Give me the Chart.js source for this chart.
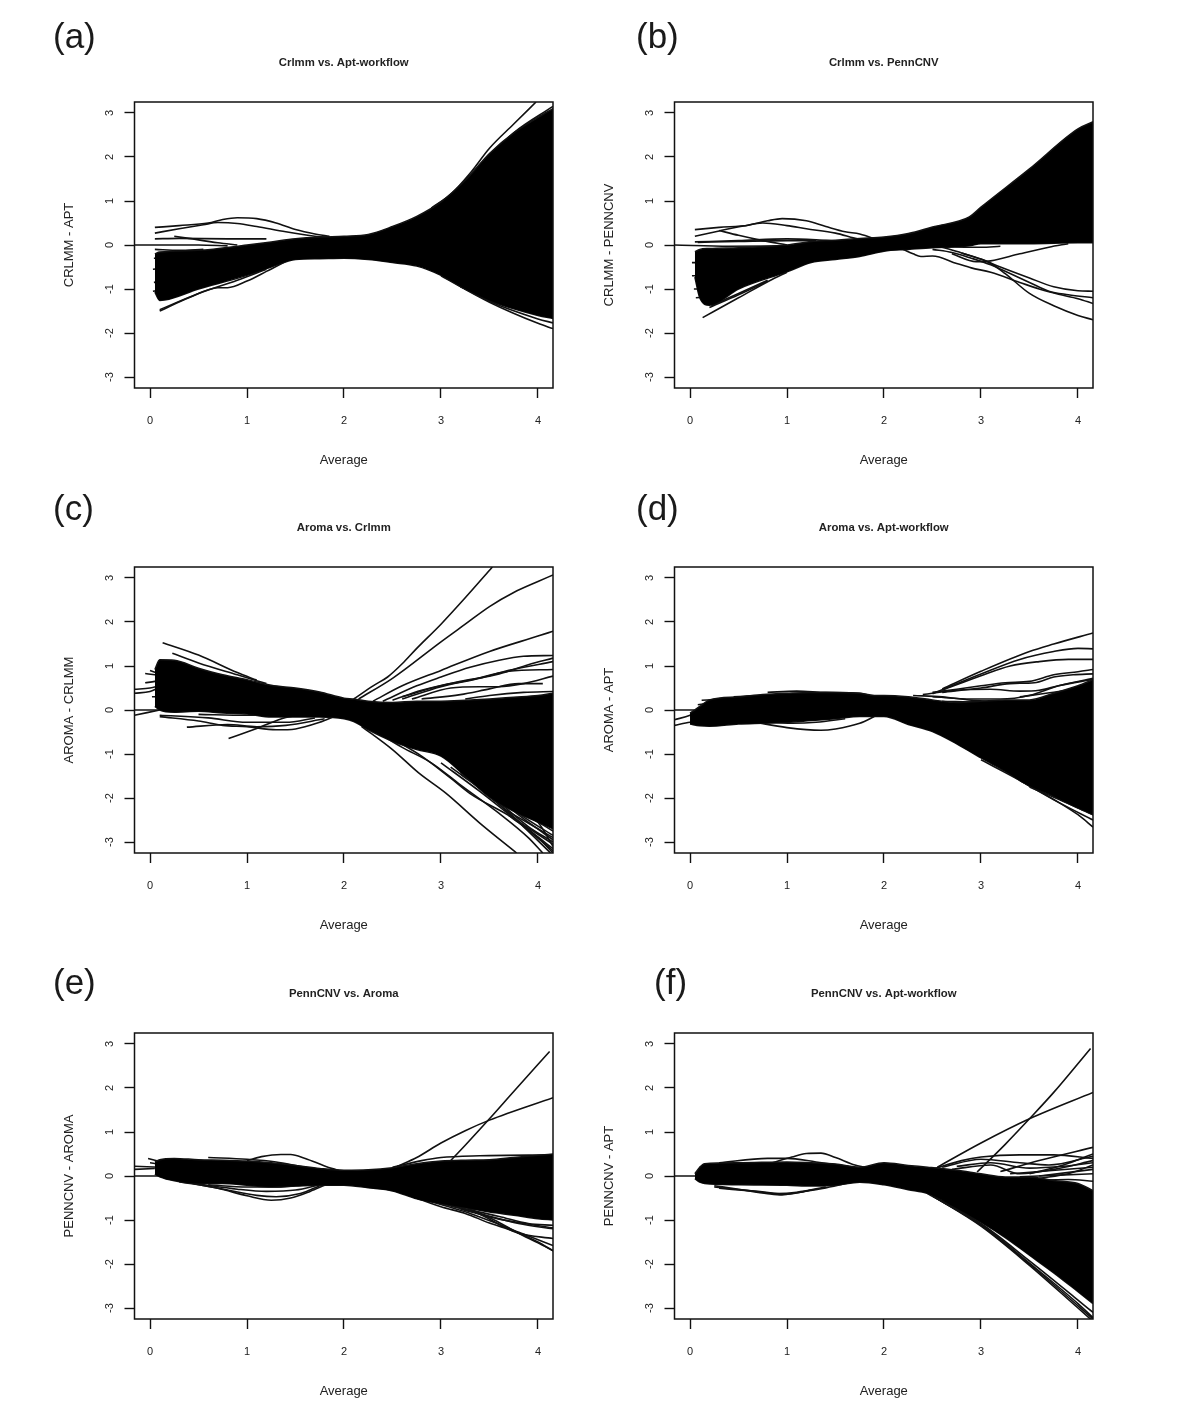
<!DOCTYPE html>
<html><head><meta charset="utf-8">
<script src="https://cdn.jsdelivr.net/npm/chart.js@4/dist/chart.umd.min.js"></script>
<style>
html,body{margin:0;padding:0;background:#fff;width:1200px;height:1418px;overflow:hidden}
canvas{position:absolute}
.tag{position:absolute;font:35px/40px "Liberation Sans",Arial,sans-serif;color:#1a1a1a}
</style></head><body>
<script>
const xTicks=[0,1,2,3,4];
const yTicks=[-3,-2,-1,0,1,2,3];
const xLimits=[-0.16,4.155];
const yLimits=[-3.25,3.25];
const titles=["Crlmm vs. Apt-workflow","Crlmm vs. PennCNV","Aroma vs. Crlmm","Aroma vs. Apt-workflow","PennCNV vs. Aroma","PennCNV vs. Apt-workflow"];
const yLabels=["CRLMM - APT","CRLMM - PENNCNV","AROMA - CRLMM","AROMA - APT","PENNCNV - AROMA","PENNCNV - APT"];
const tags=["(a)","(b)","(c)","(d)","(e)","(f)"];
const xLabel="Average";

const aBandX=[0.05,0.1,0.5,1,1.25,1.5,1.75,2,2.25,2.5,2.75,3,3.25,3.5,3.75,4,4.155];
const aUpper=[-0.2,-0.16,-0.12,0,0.07,0.14,0.18,0.2,0.24,0.42,0.65,0.98,1.47,2.08,2.55,2.9,3.1];
const aLower=[-1.07,-1.26,-1.0,-0.69,-0.5,-0.33,-0.31,-0.3,-0.33,-0.4,-0.48,-0.69,-1.0,-1.26,-1.45,-1.6,-1.67];
const aLines=[
[[0.05,0.4],[0.3,0.44],[0.6,0.5],[0.75,0.58],[0.9,0.62],[1.1,0.6],[1.3,0.5],[1.5,0.35],[1.7,0.25],[1.85,0.2]],
[[0.05,0.27],[0.3,0.37],[0.55,0.46],[0.7,0.51],[0.9,0.49],[1.1,0.42],[1.4,0.3],[1.7,0.2],[1.85,0.17]],
[[-0.16,0],[0.5,0],[0.8,-0.02]],
[[0.05,0.14],[0.3,0.15],[0.8,0.14],[1.2,0.14]],
[[0.25,0.2],[0.4,0.15],[0.7,0.05],[0.9,0]],
[[0.05,-0.1],[0.3,-0.12],[0.55,-0.1]],
[[0.04,-0.3],[0.3,-0.3]],
[[0.03,-0.55],[0.3,-0.5]],
[[0.04,-0.85],[0.3,-0.8]],
[[0.03,-1.05],[0.2,-1.0]],
[[0.1,-1.5],[0.4,-1.2],[0.7,-0.97],[0.8,-0.97],[1,-0.82],[1.2,-0.6],[1.4,-0.37]],
[[0.1,-1.47],[0.5,-1.1],[0.9,-0.8],[1.2,-0.55]],
[[2.9,0.84],[3.1,1.15],[3.3,1.63],[3.5,2.2],[3.75,2.75],[3.98,3.25]],
[[3.1,1.12],[3.4,1.8],[3.75,2.55],[4.155,3.15]],
[[3,-0.7],[3.5,-1.3],[4,-1.78],[4.155,-1.9]],
[[3.1,-0.8],[3.5,-1.28],[4,-1.68],[4.155,-1.77]],
[[3.2,-0.95],[3.6,-1.3],[4.155,-1.62]]
];

const bBandX=[0.05,0.1,0.2,0.5,1,1.25,1.5,1.75,2,2.25,2.5,2.88,3,3.5,4,4.155];
const bUpper=[-0.15,-0.1,-0.08,-0.06,0,0.08,0.11,0.15,0.18,0.26,0.41,0.64,0.86,1.73,2.64,2.8];
const bLower=[-0.73,-1.2,-1.37,-1.0,-0.61,-0.4,-0.33,-0.26,-0.14,-0.1,-0.06,-0.02,0.03,0.03,0.05,0.05];
const bLines=[
[[-0.16,0],[0.4,-0.03],[1,-0.02]],
[[0.05,0.07],[0.5,0.1],[1,0.14],[1.3,0.12],[1.6,0.08]],
[[0.08,0.06],[0.5,0.08],[1,0.1],[1.3,0.1]],
[[0.05,0.35],[0.3,0.4],[0.6,0.45],[0.8,0.55],[0.95,0.6],[1.2,0.55],[1.4,0.42],[1.6,0.3],[1.75,0.25],[1.95,0.1]],
[[0.05,0.2],[0.3,0.32],[0.55,0.43],[0.75,0.5],[1,0.44],[1.2,0.37],[1.5,0.27],[1.75,0.13],[1.9,0.1]],
[[0.3,0.33],[0.5,0.22],[0.75,0.1],[1,0]],
[[0.02,-0.4],[0.3,-0.4]],
[[0.02,-0.7],[0.3,-0.7]],
[[0.04,-1.0],[0.3,-1.0]],
[[0.06,-1.2],[0.3,-1.15]],
[[0.13,-1.65],[0.5,-1.2],[0.85,-0.78],[1,-0.62]],
[[0.2,-1.42],[0.5,-1.13],[0.8,-0.82]],
[[0.22,-1.38],[0.5,-1.1],[0.8,-0.8]],
[[2.2,-0.1],[2.3,-0.2],[2.38,-0.26],[2.5,-0.25],[2.75,-0.42],[2.9,-0.52],[3.1,-0.62],[3.4,-0.85],[3.6,-1],[3.8,-1.12],[4,-1.22],[4.155,-1.33]],
[[2.5,-0.1],[2.7,-0.17],[2.9,-0.3],[3.1,-0.45],[3.3,-0.65],[3.5,-0.85],[3.7,-1.05],[3.9,-1.13],[4.155,-1.2]],
[[2.6,-0.05],[2.8,-0.18],[3,-0.32],[3.2,-0.5],[3.5,-0.75],[3.75,-0.95],[4,-1.04],[4.155,-1.05]],
[[2.8,-0.18],[3.1,-0.42],[3.25,-0.65],[3.5,-1.1],[3.75,-1.38],[4,-1.6],[4.155,-1.7]],
[[2.7,-0.2],[2.95,-0.38],[3.1,-0.36],[3.4,-0.2],[3.7,-0.05],[3.9,0.03]],
[[2.4,-0.03],[3,-0.05],[3.2,-0.03]]
];

const cBandX=[0.05,0.1,0.25,0.5,0.75,1,1.25,1.5,1.75,2,2.1,2.25,2.5,2.75,3,3.25,3.5,3.75,4,4.155];
const cUpper=[0.92,1.14,1.13,0.95,0.8,0.69,0.56,0.5,0.41,0.27,0.25,0.2,0.17,0.2,0.2,0.22,0.25,0.29,0.33,0.38];
const cLower=[0.08,0,-0.05,-0.03,-0.07,-0.09,-0.16,-0.16,-0.16,-0.2,-0.26,-0.45,-0.71,-0.9,-1.05,-1.5,-1.98,-2.3,-2.55,-2.7];
const cLines=[
[[2.1,0.25],[2.3,0.55],[2.45,0.75],[2.6,1.05],[2.75,1.4],[3,1.95],[3.25,2.55],[3.53,3.25]],
[[2.15,0.25],[2.5,0.72],[3,1.55],[3.25,1.95],[3.5,2.35],[3.75,2.67],[4,2.92],[4.155,3.07]],
[[2.3,0.2],[2.6,0.55],[3,0.9],[3.5,1.33],[4,1.68],[4.155,1.79]],
[[2.4,0.2],[2.75,0.55],[3,0.75],[3.3,0.97],[3.6,1.13],[3.85,1.22],[4.155,1.24]],
[[2.5,0.22],[2.8,0.45],[3.2,0.65],[3.6,0.82],[3.9,1.03],[4.155,1.18]],
[[2.6,0.25],[3,0.53],[3.4,0.72],[3.7,0.9],[4.155,1.1]],
[[2.6,0.3],[3,0.55],[3.3,0.68],[3.7,0.88],[4.155,0.92]],
[[2.7,0.25],[3.1,0.5],[3.4,0.53],[3.6,0.53],[3.85,0.6],[4.155,0.77]],
[[2.8,0.25],[3.2,0.35],[3.5,0.48],[3.8,0.6],[4.05,0.6]],
[[3.25,0.25],[3.5,0.33],[3.85,0.4],[4.155,0.42]],
[[0.13,1.53],[0.5,1.25],[0.9,0.85],[1.1,0.68]],
[[0.23,1.29],[0.5,1.07],[0.9,0.8],[1.2,0.6]],
[[-0.16,0.38],[0,0.42],[0.1,0.52]],
[[-0.16,0.47],[0,0.5],[0.1,0.55]],
[[-0.05,0.62],[0.05,0.65],[0.12,0.7]],
[[-0.05,0.83],[0.05,0.8],[0.12,0.78]],
[[0,0.9],[0.1,0.82]],
[[0.02,0.3],[0.15,0.3]],
[[-0.16,-0.12],[0.1,0]],
[[-0.16,0],[0.1,0]],
[[0.1,-0.15],[0.5,-0.25],[0.75,-0.35],[1,-0.38],[1.3,-0.45],[1.5,-0.43],[1.75,-0.28],[1.9,-0.15]],
[[0.38,-0.39],[0.8,-0.33],[1.1,-0.38],[1.4,-0.35],[1.8,-0.2]],
[[0.1,-0.12],[0.6,-0.18],[1,-0.28],[1.4,-0.28],[1.7,-0.18]],
[[0.81,-0.65],[1.1,-0.42],[1.4,-0.17],[1.7,-0.08]],
[[0.5,-0.1],[1,-0.12],[1.4,-0.1]],
[[2.18,-0.37],[2.5,-0.9],[2.77,-1.43],[3.05,-1.89],[3.4,-2.57],[3.78,-3.25]],
[[2.3,-0.45],[2.6,-0.85],[2.9,-1.2],[3.2,-1.7],[3.6,-2.35],[3.9,-2.9],[4.05,-3.25]],
[[2.5,-0.65],[2.8,-1.05],[3.1,-1.55],[3.3,-1.9],[3.7,-2.4],[4.155,-3.05]],
[[3,-1.2],[3.4,-1.85],[3.8,-2.55],[4.155,-3.2]],
[[3.1,-1.3],[3.5,-1.95],[3.85,-2.65],[4.13,-3.25]],
[[3.2,-1.45],[3.6,-2.05],[3.9,-2.55],[4.155,-2.95]],
[[3.2,-1.4],[3.6,-2.15],[3.95,-2.8],[4.155,-3.15]],
[[3.4,-1.65],[3.75,-2.2],[4.155,-2.75]],
[[3.45,-1.75],[3.8,-2.3],[4.155,-2.6]],
[[3.5,-1.8],[3.8,-2.35],[4.155,-2.85]],
[[3.6,-2.1],[3.9,-2.65],[4.155,-3.0]],
[[3.7,-2.4],[4,-2.9],[4.155,-3.25]],
[[3.65,-2.25],[4,-2.7],[4.155,-2.9]],
[[3.7,-2.1],[4,-2.55],[4.155,-3.1]]
];

const dBandX=[0,0.1,0.2,0.5,0.75,1,1.25,1.5,1.75,1.9,2,2.25,2.5,2.75,3,3.25,3.5,3.75,4,4.155];
const dUpper=[-0.07,0.08,0.23,0.3,0.35,0.38,0.4,0.4,0.38,0.33,0.33,0.3,0.23,0.17,0.2,0.23,0.23,0.38,0.55,0.69];
const dLower=[-0.32,-0.36,-0.37,-0.32,-0.3,-0.28,-0.24,-0.2,-0.15,-0.15,-0.15,-0.33,-0.49,-0.77,-1.09,-1.39,-1.73,-1.96,-2.23,-2.38];
const dLines=[
[[2.6,0.48],[3,0.88],[3.5,1.33],[3.75,1.5],[4.155,1.75]],
[[2.5,0.37],[3,0.82],[3.4,1.15],[3.75,1.33],[4,1.4],[4.155,1.39]],
[[2.6,0.45],[3,0.78],[3.3,1],[3.6,1.1],[3.9,1.15],[4.155,1.15]],
[[2.5,0.4],[2.75,0.47],[3,0.55],[3.25,0.62],[3.5,0.65],[3.75,0.8],[4,0.87],[4.155,0.92]],
[[2.6,0.4],[3,0.5],[3.3,0.6],[3.55,0.62],[3.75,0.75],[3.95,0.8],[4.155,0.82]],
[[2.4,0.35],[2.75,0.45],[3.1,0.47],[3.4,0.43],[3.6,0.45],[3.8,0.55],[4.155,0.7]],
[[2.5,0.3],[2.9,0.25],[3.2,0.25],[3.5,0.33],[3.8,0.55],[4.155,0.72]],
[[2.3,0.33],[2.6,0.3],[2.9,0.22],[3.1,0.2]],
[[2.6,0.2],[3,0.18],[3.4,0.2]],
[[3.4,0.3],[3.8,0.42],[4.155,0.55]],
[[-0.16,0],[0.05,0]],
[[-0.16,-0.22],[0,-0.12],[0.1,0]],
[[-0.16,-0.35],[0,-0.28],[0.1,-0.25]],
[[0.08,0.12],[0.4,0.22]],
[[0.12,0.22],[0.5,0.26]],
[[0.45,0.3],[0.8,0.33]],
[[0.65,-0.27],[1,-0.4],[1.35,-0.46],[1.5,-0.43],[1.75,-0.3],[1.9,-0.15]],
[[0.7,-0.27],[1.05,-0.3],[1.3,-0.28],[1.6,-0.2]],
[[0.8,0.4],[1.1,0.43],[1.4,0.4],[1.75,0.38],[1.85,0.33]],
[[3,-1.13],[3.5,-1.72],[4,-2.38],[4.155,-2.66]],
[[3.4,-1.6],[3.8,-2.1],[4.155,-2.5]],
[[3.5,-1.75],[3.8,-2.03],[4.155,-2.38]]
];

const eBandX=[0.05,0.1,0.25,0.5,0.75,1,1.25,1.5,1.75,2,2.25,2.5,2.75,3,3.25,3.5,3.75,4,4.155];
const eUpper=[0.32,0.37,0.4,0.37,0.36,0.34,0.3,0.24,0.17,0.13,0.14,0.19,0.28,0.34,0.36,0.37,0.42,0.47,0.5];
const eLower=[0.04,-0.02,-0.11,-0.17,-0.17,-0.21,-0.25,-0.23,-0.21,-0.21,-0.27,-0.34,-0.52,-0.63,-0.72,-0.82,-0.89,-0.97,-1.0];
const eLines=[
[[1,0.35],[1.15,0.44],[1.35,0.49],[1.45,0.49],[1.6,0.4],[1.8,0.23],[1.95,0.12]],
[[0.6,0.42],[1,0.38],[1.3,0.32],[1.6,0.2],[1.9,0.12]],
[[-0.16,0.22],[0.1,0.2]],
[[-0.16,0.15],[0.05,0.17]],
[[-0.16,0],[0.1,0]],
[[-0.02,0.4],[0.1,0.33]],
[[0,0.3],[0.1,0.27]],
[[0.3,-0.13],[0.7,-0.28],[1,-0.45],[1.25,-0.55],[1.45,-0.5],[1.65,-0.35],[1.8,-0.21]],
[[0.4,-0.15],[0.8,-0.32],[1.1,-0.44],[1.3,-0.47],[1.55,-0.4],[1.75,-0.22]],
[[0.5,-0.18],[0.9,-0.3],[1.2,-0.35],[1.5,-0.32],[1.75,-0.2]],
[[0.6,-0.2],[1,-0.25],[1.3,-0.25],[1.7,-0.18]],
[[2.55,0.22],[2.75,0.42],[3,0.75],[3.25,1.03],[3.5,1.27],[4.155,1.78]],
[[3.07,0.28],[3.25,0.7],[3.5,1.3],[3.75,1.92],[4.12,2.83]],
[[2.5,0.2],[2.8,0.35],[3,0.42],[3.4,0.46],[4.155,0.48]],
[[2.6,-0.38],[3,-0.7],[3.25,-0.85],[3.5,-1.07],[3.75,-1.25],[4,-1.5],[4.155,-1.7]],
[[2.7,-0.43],[3,-0.65],[3.3,-0.85],[3.6,-1.1],[3.85,-1.32],[4.155,-1.58]],
[[2.7,-0.45],[3.1,-0.65],[3.4,-0.87],[3.6,-1.1],[3.8,-1.3],[4.155,-1.42]],
[[3.3,-0.75],[3.55,-1],[3.8,-1.3],[4,-1.52],[4.155,-1.7]],
[[3,-0.62],[3.4,-0.85],[3.8,-1.08],[4.155,-1.2]],
[[3.2,-0.75],[3.6,-0.98],[4.155,-1.18]],
[[3.1,-0.68],[3.6,-0.92],[3.9,-1.08],[4.155,-1.12]]
];

const fBandX=[0.05,0.1,0.15,0.5,1,1.25,1.5,1.75,2,2.25,2.45,2.75,3,3.25,3.5,3.75,4,4.155];
const fUpper=[0.05,0.2,0.28,0.3,0.32,0.3,0.27,0.2,0.3,0.24,0.2,0.13,0.05,-0.02,-0.02,-0.1,-0.17,-0.33];
const fLower=[-0.06,-0.14,-0.17,-0.2,-0.21,-0.23,-0.21,-0.14,-0.2,-0.31,-0.4,-0.74,-1.05,-1.4,-1.8,-2.2,-2.63,-2.9];
const fLines=[
[[-0.16,0],[0.1,0]],
[[0.85,0.3],[1.05,0.43],[1.2,0.51],[1.35,0.52],[1.5,0.42],[1.7,0.25],[1.8,0.2]],
[[0.3,0.3],[0.8,0.4],[1,0.4],[1.3,0.32],[1.7,0.2]],
[[0.25,-0.22],[0.5,-0.3],[0.8,-0.4],[0.95,-0.43],[1.1,-0.38],[1.4,-0.27],[1.7,-0.13]],
[[0.25,-0.25],[0.6,-0.33],[0.9,-0.4],[1.1,-0.37],[1.4,-0.25]],
[[0.3,-0.28],[0.7,-0.35],[1,-0.41],[1.25,-0.32]],
[[2.55,0.2],[3,0.75],[3.5,1.3],[4.155,1.9]],
[[2.96,0.09],[3.25,0.72],[3.5,1.3],[3.75,1.9],[4.13,2.9]],
[[2.5,0.15],[2.8,0.35],[3,0.43],[3.4,0.48],[3.75,0.48],[4.155,0.4]],
[[2.6,0.2],[3,0.38],[3.4,0.3],[3.7,0.25],[4.155,0.45]],
[[2.7,0.15],[3.1,0.25],[3.4,0.05],[3.75,0.15],[4.155,0.35]],
[[3.2,0.1],[3.6,0.35],[4.155,0.65]],
[[2.75,0.22],[3.1,0.3],[3.5,0.18],[3.85,0.22],[4.155,0.3]],
[[3.5,0.05],[3.85,0.25],[4.155,0.5]],
[[3.6,0],[4.155,0.15]],
[[3.3,0.05],[3.7,0.12],[4.155,0.2]],
[[3.4,-0.02],[3.8,0.02],[4.155,0.05]],
[[3.5,-0.1],[3.9,-0.08],[4.155,-0.12]],
[[3.6,-0.05],[3.9,0.05],[4.155,0.25]],
[[2.45,-0.4],[3,-1.1],[3.5,-1.98],[4,-2.9],[4.155,-3.22]],
[[2.5,-0.45],[3,-1.08],[3.5,-1.93],[4,-2.82],[4.155,-3.1]],
[[2.5,-0.45],[3,-1.12],[3.5,-2.0],[4,-2.95],[4.155,-3.25]],
[[2.5,-0.45],[3,-1.14],[3.5,-2.03],[4,-3.0],[4.155,-3.3]]
];

const bandXs=[aBandX,bBandX,cBandX,dBandX,eBandX,fBandX];
const uppers=[aUpper,bUpper,cUpper,dUpper,eUpper,fUpper];
const lowers=[aLower,bLower,cLower,dLower,eLower,fLower];
const extraLines=[aLines,bLines,cLines,dLines,eLines,fLines];

const INK='#111', TEXT='#222';
const FONT='"Liberation Sans",Arial,sans-serif';
const cols=[20,560], rows=[40,505,971];
const tagPos=[[53,16],[636,16],[53,488],[636,488],[53,962],[654,962]];
const boxPlugin={id:'box',afterDraw(c){const a=c.chartArea,g=c.ctx;g.save();g.strokeStyle=INK;g.lineWidth=1.5;g.strokeRect(a.left,a.top,a.right-a.left,a.bottom-a.top);g.restore();}};

titles.forEach((title,i)=>{
  const cv=document.createElement('canvas');
  cv.width=540;cv.height=440;
  cv.style.left=cols[i%2]+'px';cv.style.top=rows[Math.floor(i/2)]+'px';
  document.body.appendChild(cv);
  const tag=document.createElement('div');tag.className='tag';tag.textContent=tags[i];
  tag.style.left=tagPos[i][0]+'px';tag.style.top=tagPos[i][1]+'px';document.body.appendChild(tag);
  const pts=(xs,ys)=>xs.map((x,k)=>({x,y:ys[k]}));
  const datasets=[
    {data:pts(bandXs[i],uppers[i]),fill:'+1',backgroundColor:'#000',borderColor:INK,borderWidth:1.5,pointRadius:0,cubicInterpolationMode:'monotone'},
    {data:pts(bandXs[i],lowers[i]),fill:false,borderColor:INK,borderWidth:1.5,pointRadius:0,cubicInterpolationMode:'monotone'}
  ];
  extraLines[i].forEach(l=>datasets.push({data:l.map(p=>({x:p[0],y:p[1]})),fill:false,borderColor:INK,borderWidth:1.6,pointRadius:0,cubicInterpolationMode:'monotone'}));
  new Chart(cv,{type:'line',data:{datasets},plugins:[boxPlugin],options:{
    responsive:false,animation:false,
    layout:{padding:{left:0,right:7,top:0,bottom:0}},
    plugins:{legend:{display:false},tooltip:{enabled:false},
      title:{display:true,text:title,fullSize:false,color:TEXT,font:{family:FONT,size:11.35,weight:'bold',lineHeight:1.2},padding:{top:16.2,bottom:32.18}}},
    scales:{
      x:{type:'linear',position:'bottom',min:xLimits[0],max:xLimits[1],
        afterBuildTicks:s=>{s.ticks=xTicks.map(v=>({value:v}));},
        afterFit:s=>{s.height=92;},
        grid:{drawOnChartArea:false,drawTicks:true,tickLength:10,tickColor:INK,tickWidth:1.4},
        border:{display:false},
        ticks:{color:TEXT,font:{family:FONT,size:11},padding:16,maxRotation:0,minRotation:0,autoSkip:false,callback:v=>String(v)},
        title:{display:true,text:xLabel,color:TEXT,font:{family:FONT,size:13,lineHeight:1.2},padding:{top:0,bottom:12.2}}},
      y:{type:'linear',position:'left',min:yLimits[0],max:yLimits[1],
        afterBuildTicks:s=>{s.ticks=yTicks.map(v=>({value:v}));},
        afterFit:s=>{s.width=114.5;},
        grid:{drawOnChartArea:false,drawTicks:true,tickLength:10,tickColor:INK,tickWidth:1.4},
        border:{display:false},
        ticks:{color:TEXT,font:{family:FONT,size:11},padding:9.5,minRotation:90,maxRotation:90,crossAlign:'center',autoSkip:false,callback:v=>String(v)},
        title:{display:true,text:yLabels[i],color:TEXT,font:{family:FONT,size:13,lineHeight:1.2},padding:{top:41.7,bottom:0}}}
    }
  }});
});
</script>
</body></html>
